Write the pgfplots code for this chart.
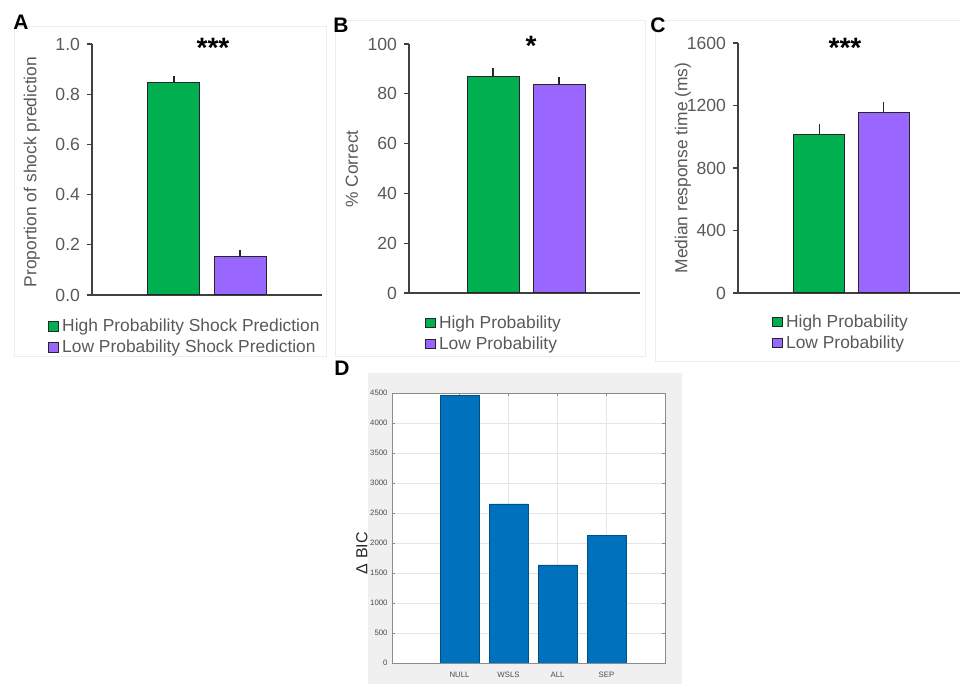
\documentclass[border=0pt]{standalone}
\usepackage{fontspec}
\setmainfont{Liberation Sans}
\usepackage{pgfplots}
\pgfplotsset{compat=1.18}

\definecolor{hgreen}{HTML}{00B050}
\definecolor{lpurple}{HTML}{9966FF}
\definecolor{tickgray}{HTML}{595959}
\definecolor{barline}{HTML}{262626}
\definecolor{mblue}{HTML}{0072BD}
\definecolor{mbg}{HTML}{F0F0F0}

\pgfplotsset{
  panel/.style={
    scale only axis, anchor=south west, clip=false,
    axis lines=left, axis line style={-, draw=black!75, line width=0.6pt},
    xtick=\empty, ymin=0,
    tick align=outside, major tick length=2.5pt,
    tick style={draw=black!75, line width=0.6pt},
    ticklabel style={font=\fontsize{8.8}{10}\selectfont, text=tickgray},
    /pgf/number format/assume math mode=true,
    /pgf/number format/1000 sep={},
    ylabel style={font=\fontsize{8.7}{10}\selectfont, text=tickgray, anchor=center},
    legend style={draw=none, fill=none, anchor=north west,
      font=\fontsize{8.7}{10}\selectfont, text=tickgray,
      nodes={inner sep=0pt, text height=7pt, text depth=2pt, anchor=west},
      row sep=1.5pt,
      /tikz/every odd column/.append style={column sep=1.6pt}},
    legend cell align=left,
  },
  sqleg/.style={legend image code/.code={
    \draw[fill=#1, draw=barline, line width=0.5pt] (0pt,-2.3pt) rectangle (5pt,2.3pt);}},
  sebar/.style={error bars/.cd, y dir=plus, y explicit,
    error bar style={draw=barline, line width=0.6pt},
    error mark options={draw=barline, line width=0.6pt, mark size=1.5pt}},
}

\begin{document}
\begin{tikzpicture}
\useasboundingbox (0,0) rectangle (480pt,342pt);

% faint panel frames
\draw[black!7, line width=0.5pt] (7pt,163.5pt) rectangle (163pt,328.5pt);
\draw[black!7, line width=0.5pt] (167.5pt,163.5pt) rectangle (322.5pt,331.5pt);
\draw[black!7, line width=0.5pt] (327.5pt,161pt) rectangle (480pt,331.5pt);

% ---------- A ----------
\begin{axis}[panel, at={(46pt,194.5pt)}, width=115pt, height=125.5pt,
  xmin=-1.242, xmax=2.242, ymax=1, ytick={0,0.2,...,1.0},
  yticklabel style={/pgf/number format/.cd, fixed, fixed zerofill, precision=1},
  ylabel={Proportion of shock prediction},
  ylabel style={at={(axis description cs:-0.261,0.49)}},
  legend style={at={(axis description cs:-0.219,-0.072)}}]
\addplot[ybar, bar width=26pt, bar shift=0pt, fill=hgreen, draw=barline, line width=0.5pt, sqleg=hgreen, sebar]
  coordinates {(0,0.848) +- (0,0.012)};
\addlegendentry{High Probability Shock Prediction}
\addplot[ybar, bar width=26pt, bar shift=0pt, fill=lpurple, draw=barline, line width=0.5pt, sqleg=lpurple, sebar]
  coordinates {(1,0.155) +- (0,0.013)};
\addlegendentry{Low Probability Shock Prediction}
\end{axis}

% ---------- B ----------
\begin{axis}[panel, at={(204.5pt,195.5pt)}, width=115.5pt, height=124.5pt,
  xmin=-1.273, xmax=2.227, ymax=100, ytick={0,20,...,100},
  ylabel={\% Correct},
  ylabel style={at={(axis description cs:-0.247,0.498)}},
  legend style={at={(axis description cs:0.041,-0.068)}}]
\addplot[ybar, bar width=26pt, bar shift=0pt, fill=hgreen, draw=barline, line width=0.5pt, sqleg=hgreen, sebar]
  coordinates {(0,87.1) +- (0,2.0)};
\addlegendentry{High Probability}
\addplot[ybar, bar width=26pt, bar shift=0pt, fill=lpurple, draw=barline, line width=0.5pt, sqleg=lpurple, sebar]
  coordinates {(1,83.9) +- (0,1.6)};
\addlegendentry{Low Probability}
\end{axis}

% ---------- C ----------
\begin{axis}[panel, at={(369pt,195.5pt)}, width=111pt, height=125pt,
  xmin=-1.273, xmax=2.195, ymax=1600, ytick={0,400,...,1600},
  ylabel={Median response time (ms)},
  ylabel style={at={(axis description cs:-0.248,0.5)}},
  legend style={at={(axis description cs:0.124,-0.064)}}]
\addplot[ybar, bar width=25.5pt, bar shift=0pt, fill=hgreen, draw=barline, line width=0.5pt, sqleg=hgreen, sebar]
  coordinates {(0,1017) +- (0,45)};
\addlegendentry{High Probability}
\addplot[ybar, bar width=25.5pt, bar shift=0pt, fill=lpurple, draw=barline, line width=0.5pt, sqleg=lpurple, sebar]
  coordinates {(1,1152) +- (0,51)};
\addlegendentry{Low Probability}
\end{axis}

% ---------- D ----------
\fill[mbg] (184pt,0pt) rectangle (341pt,155.5pt);
\begin{axis}[scale only axis, anchor=south west, at={(196pt,10.5pt)},
  width=136.5pt, height=135pt,
  xmin=-0.378, xmax=5.194, ymin=0, ymax=4500,
  ytick={0,500,...,4500}, xtick={1,2,3,4}, xticklabels={NULL,WSLS,ALL,SEP},
  axis background/.style={fill=white},
  axis line style={draw=black!45, line width=0.4pt},
  grid=major, grid style={black!10, line width=0.4pt},
  tick align=inside, major tick length=1.5pt,
  tick style={draw=black!45, line width=0.4pt},
  ticklabel style={font=\fontsize{3.9}{4.5}\selectfont, text=black!70},
  yticklabel style={xshift=1.3pt},
  xticklabel style={yshift=-1.2pt},
  /pgf/number format/assume math mode=true,
  /pgf/number format/1000 sep={},
  ylabel={Δ BIC},
  ylabel style={font=\fontsize{8}{9}\selectfont, text=black!85, at={(axis description cs:-0.11,0.407)}, anchor=center}]
\addplot[ybar, bar width=19.5pt, bar shift=0pt, fill=mblue, draw=mblue!70!black, line width=0.3pt]
  coordinates {(1,4460) (2,2650) (3,1635) (4,2120)};
\end{axis}

% panel letters and significance marks
\node[font=\fontsize{10.5}{12}\selectfont\bfseries] at (10.5pt,331pt) {A};
\node[font=\fontsize{10.5}{12}\selectfont\bfseries] at (170.5pt,329.5pt) {B};
\node[font=\fontsize{10.5}{12}\selectfont\bfseries] at (329pt,329.5pt) {C};
\node[font=\fontsize{10.5}{12}\selectfont\bfseries] at (171pt,158pt) {D};
\node[font=\fontsize{14}{16}\selectfont\bfseries, anchor=base, inner sep=0pt] at (106.5pt,313pt) {***};
\node[font=\fontsize{14}{16}\selectfont\bfseries, anchor=base, inner sep=0pt] at (265.5pt,314pt) {*};
\node[font=\fontsize{14}{16}\selectfont\bfseries, anchor=base, inner sep=0pt] at (422.5pt,313pt) {***};
\end{tikzpicture}
\end{document}
